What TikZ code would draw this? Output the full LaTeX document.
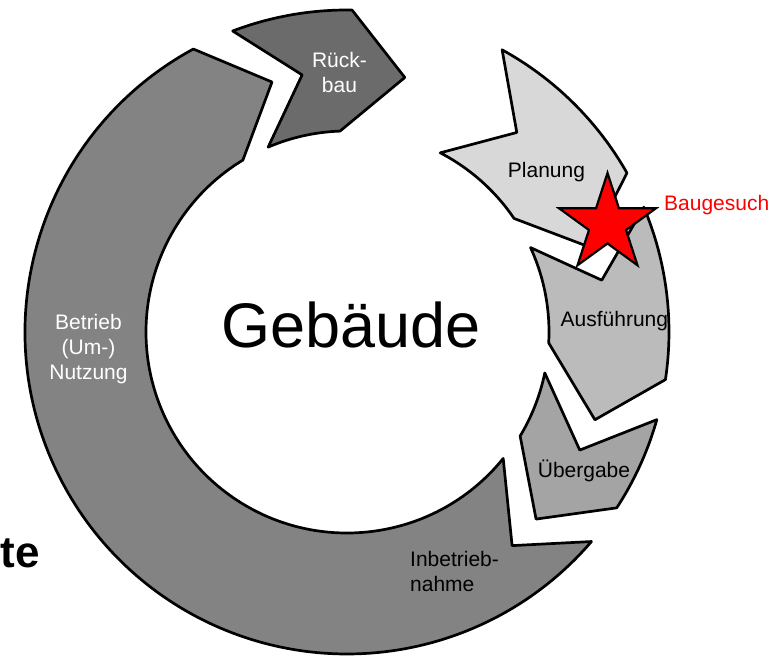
\documentclass[tikz,border=0pt]{standalone}
\usepackage{fontspec}
\setmainfont{Liberation Sans}
\usetikzlibrary{shapes.geometric}
\definecolor{cRing}{HTML}{838383}
\definecolor{cRueck}{HTML}{6B6B6B}
\definecolor{cPlan}{HTML}{D8D8D8}
\definecolor{cAusf}{HTML}{BBBBBB}
\definecolor{cUeber}{HTML}{A4A4A4}
\begin{document}
\begin{tikzpicture}[x=1pt,y=1pt,
  seg/.style={draw=black, line width=2.7pt, line join=round},
  lbl/.style={inner sep=0pt, anchor=base, font=\fontsize{21}{25}\selectfont},
  wlbl/.style={lbl, text=white}]
\useasboundingbox (0,0) rectangle (779,656);
\fill[white] (0,0) rectangle (779,656);
\begin{scope}[shift={(347,324)}]
% Inbetriebnahme + Betrieb
\path[seg, fill=cRing] (-40.6:322) -- (-52.3:270) -- (-39.0:201)
  arc[start angle=-39.0, end angle=-238.8, radius=201pt]
  -- (106.7:261) -- (118.5:322)
  arc[start angle=118.5, end angle=319.4, radius=322pt] -- cycle;
% Rueckbau
\path[seg, fill=cRueck] (110.8:322) -- (99.9:261) -- (113.1:201)
  arc[start angle=113.1, end angle=92.0, radius=201pt]
  -- (77.2:261) -- (89.1:322)
  arc[start angle=89.1, end angle=110.8, radius=322pt] -- cycle;
% Planung
\path[seg, fill=cPlan] (61.2:322) -- (49.6:262) -- (62.5:202)
  arc[start angle=62.5, end angle=34.2, radius=202pt]
  -- (19.3:257) -- (29.6:322)
  arc[start angle=29.6, end angle=61.2, radius=322pt] -- cycle;
% Ausfuehrung
\path[seg, fill=cAusf] (22.8:322) -- (11.5:260) -- (24.7:202)
  arc[start angle=24.7, end angle=-3.1, radius=202pt]
  -- (-19.5:263) -- (-8.5:322)
  arc[start angle=-8.5, end angle=22.8, radius=322pt] -- cycle;
% Uebergabe
\path[seg, fill=cUeber] (-15.8:322) -- (-26.9:261) -- (-11.7:202)
  arc[start angle=-11.7, end angle=-31.0, radius=202pt]
  -- (-44.7:266) -- (-33.1:322)
  arc[start angle=-33.1, end angle=-15.8, radius=322pt] -- cycle;
\end{scope}

\node[star, star points=5, star point ratio=2.618, minimum size=102pt,
  inner sep=0pt, draw=black, fill=red, line width=2.2pt] (star) at (607.5,432) {};

\node[inner sep=0pt, anchor=base, font=\fontsize{63}{70}\selectfont] (geb) at (351,308) {Gebäude};

\node[wlbl] (rk1) at (339.5,588) {Rück-};
\node[wlbl] (rk2) at (339.5,563) {bau};
\node[lbl] (plan) at (546.5,478) {Planung};
\node[lbl, anchor=base west, text=red] (bg) at (664,445) {Baugesuch};
\node[lbl, anchor=base west] (ausf) at (560.5,329) {Ausführung};
\node[lbl] (ueb) at (584,178) {Übergabe};
\node[lbl, anchor=base west] (ib1) at (410,89) {Inbetrieb-};
\node[lbl, anchor=base west] (ib2) at (410,64) {nahme};
\node[wlbl] (bt1) at (88.5,326) {Betrieb};
\node[wlbl] (bt2) at (88.5,301) {(Um-)};
\node[wlbl] (bt3) at (88.5,276) {Nutzung};
\node[inner sep=0pt, anchor=base west, font=\fontsize{44}{50}\bfseries] (te) at (0.5,88) {te};
\end{tikzpicture}
\end{document}
